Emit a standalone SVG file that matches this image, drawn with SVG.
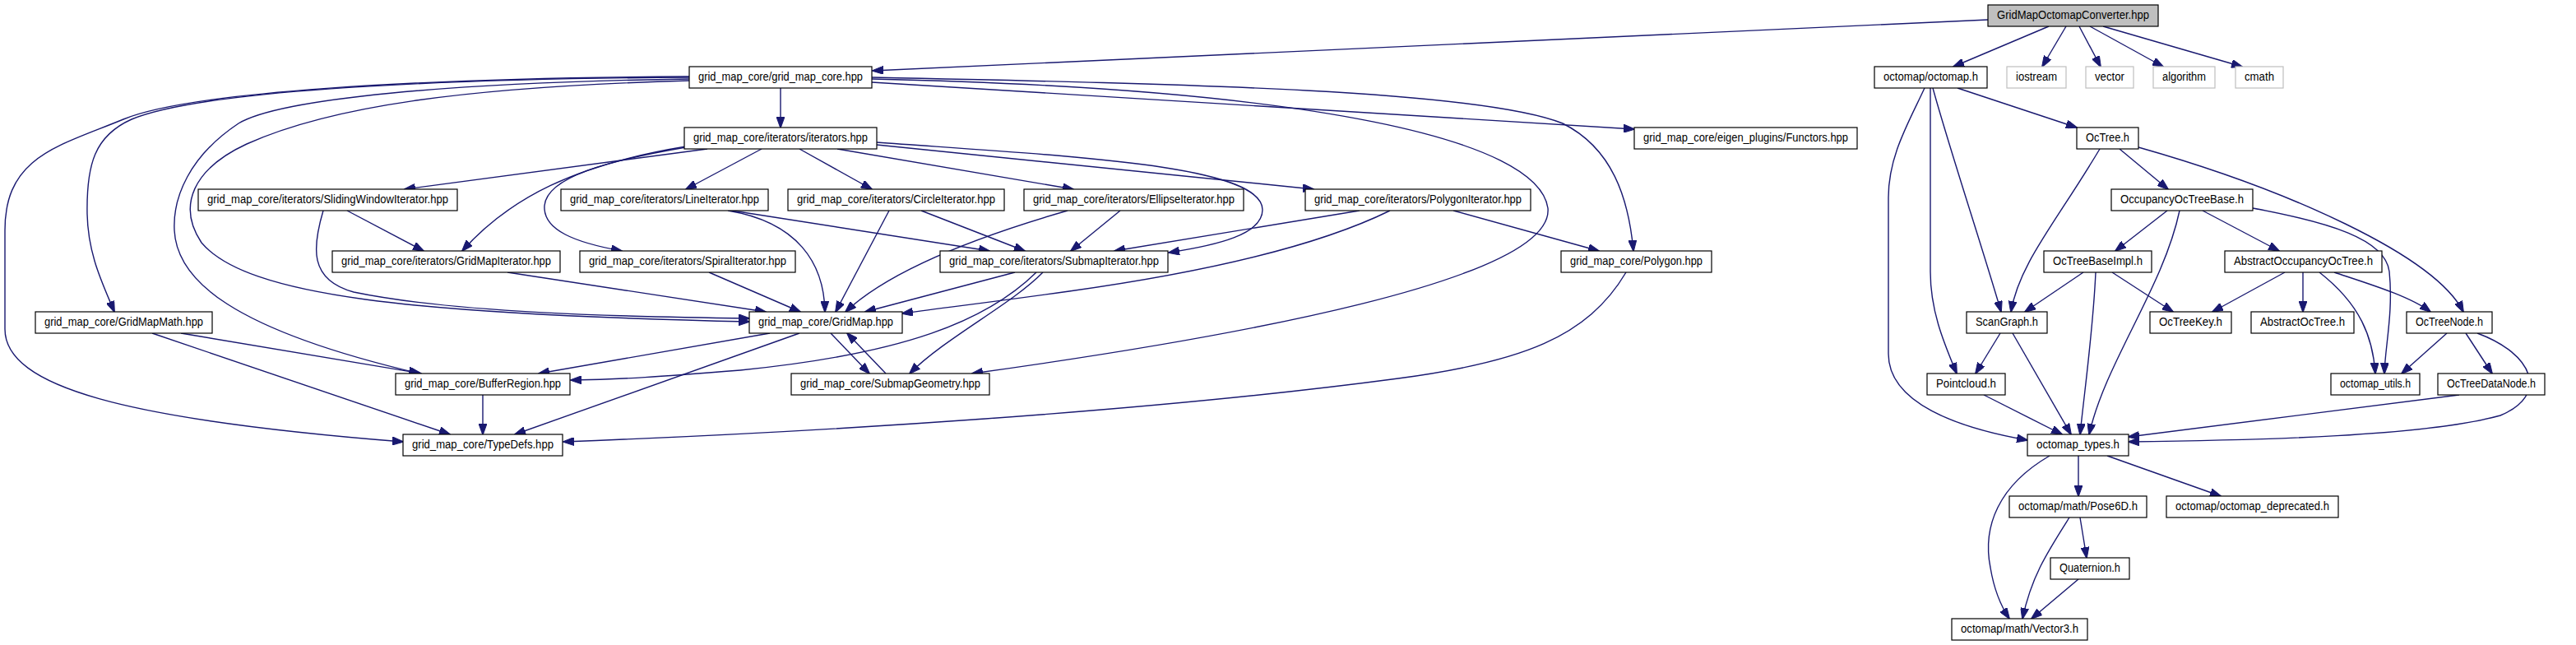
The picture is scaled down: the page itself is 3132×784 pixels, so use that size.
<svg xmlns="http://www.w3.org/2000/svg" width="3132" height="784" viewBox="0 0 3132 784">
<style>
.n rect{fill:#fff;stroke:#000;stroke-width:1.2}
.g rect{fill:#fff;stroke:#bfbfbf;stroke-width:1.2}
.r rect{fill:#bfbfbf;stroke:#000;stroke-width:1.2}
text{font-family:"Liberation Sans",Arial,sans-serif;font-size:14px;text-anchor:middle;fill:#000}
.e path{fill:none;stroke:#191970;stroke-width:1.4;marker-end:url(#a)}
</style>
<defs>
<marker id="a" markerWidth="14" markerHeight="10" refX="13" refY="5" orient="auto" markerUnits="userSpaceOnUse"><path d="M0,0 L14,5 L0,10 z" fill="#191970" stroke="#191970" stroke-width="1"/></marker>
</defs>
<rect width="3132" height="784" fill="#fff"/>
<g id="connectors" class="e">
<path d="M2417,24 L1061,86"/>
<path d="M2491,32 L2375,81"/>
<path d="M2512,32 L2483,81"/>
<path d="M2528,32 L2554,81"/>
<path d="M2541,32 L2630,81"/>
<path d="M2557,32 L2726,81"/>
<path d="M949,107 L949,155"/>
<path d="M1060,100 L1987,157"/>
<path d="M1060,94 C1450,102 1800,110 1900,150 C1960,180 1980,240 1986,305"/>
<path d="M1060,96 C1600,108 1870,170 1882,253 C1890,340 1500,410 1182,454"/>
<path d="M838,93 C500,95 230,112 150,145 C70,178 6,190 6,280 L6,400 C6,470 150,510 490,537"/>
<path d="M838,94 C500,96 240,112 160,145 C115,165 105,200 106,260 C107,310 125,345 139,379"/>
<path d="M838,96 C550,100 340,120 290,150 C230,190 210,240 212,280 C215,340 280,400 510,454"/>
<path d="M838,98 C560,106 400,130 300,175 C235,205 215,250 245,295 C300,360 500,382 911,391"/>
<path d="M860,181 L492,230"/>
<path d="M834,178 C700,200 620,240 562,305"/>
<path d="M834,179 C740,195 665,215 662,250 C660,280 700,295 756,305"/>
<path d="M926,181 L834,230"/>
<path d="M972,181 L1060,230"/>
<path d="M1018,181 L1305,230"/>
<path d="M1066,176 L1597,230"/>
<path d="M1066,173 C1300,190 1535,200 1535,255 C1535,285 1480,298 1421,307"/>
<path d="M422,256 L515,305"/>
<path d="M393,256 C380,300 375,340 430,355 C550,380 750,385 911,387"/>
<path d="M617,331 L931,379"/>
<path d="M885,256 C970,270 1002,320 1003,379"/>
<path d="M890,256 L1203,305"/>
<path d="M1081,256 L1016,379"/>
<path d="M1120,256 L1246,305"/>
<path d="M1298,256 C1180,290 1080,330 1028,379"/>
<path d="M1362,256 L1302,305"/>
<path d="M862,331 L973,379"/>
<path d="M1234,331 L1052,379"/>
<path d="M1260,331 C1200,390 1100,430 900,450 C800,458 760,461 694,462"/>
<path d="M1268,331 C1230,370 1150,410 1106,454"/>
<path d="M1653,256 L1355,305"/>
<path d="M1690,256 C1580,310 1400,340 1300,354 C1200,368 1140,375 1097,381"/>
<path d="M1767,256 L1944,305"/>
<path d="M1977,331 C1930,410 1850,440 1700,460 C1400,500 1000,525 685,537"/>
<path d="M185,405 L547,528"/>
<path d="M220,405 L512,454"/>
<path d="M587,480 L587,528"/>
<path d="M936,405 L655,454"/>
<path d="M972,405 L626,528"/>
<path d="M1010,405 L1057,454"/>
<path d="M1077,454 L1030,405"/>
<path d="M2380,107 L2525,155"/>
<path d="M2340,107 C2320,150 2296,190 2296,240 L2296,430 C2296,490 2380,520 2465,535"/>
<path d="M2347,107 L2347,330 C2347,380 2365,420 2379,454"/>
<path d="M2350,107 C2370,180 2410,300 2433,379"/>
<path d="M2553,181 C2500,270 2455,320 2445,379"/>
<path d="M2577,181 L2636,230"/>
<path d="M2600,179 C2780,230 2960,310 2995,379"/>
<path d="M2635,256 L2572,305"/>
<path d="M2650,256 C2630,350 2560,440 2540,528"/>
<path d="M2678,256 L2771,305"/>
<path d="M2739,253 C2830,270 2900,290 2905,330 C2910,380 2900,420 2899,454"/>
<path d="M2820,331 C2870,370 2885,410 2888,454"/>
<path d="M2778,331 L2690,379"/>
<path d="M2800,331 L2800,379"/>
<path d="M2838,331 C2880,345 2930,360 2955,379"/>
<path d="M2533,331 L2462,379"/>
<path d="M2548,331 C2545,400 2535,470 2529,528"/>
<path d="M2568,331 L2642,379"/>
<path d="M2432,405 L2402,454"/>
<path d="M2447,405 L2518,528"/>
<path d="M2412,480 L2507,528"/>
<path d="M3012,405 C3080,430 3100,480 3040,505 C2950,530 2750,535 2588,537"/>
<path d="M2975,405 L2920,454"/>
<path d="M2998,405 L3030,454"/>
<path d="M2990,480 L2588,531"/>
<path d="M2527,554 L2527,603"/>
<path d="M2492,554 C2430,590 2410,640 2420,690 C2425,720 2435,740 2443,752"/>
<path d="M2562,554 L2700,603"/>
<path d="M2529,629 L2537,678"/>
<path d="M2516,629 C2490,670 2470,700 2459,752"/>
<path d="M2527,704 L2470,752"/>
</g>
<g id="root" class="r"><rect x="2417" y="6" width="207" height="26"/><text x="2520.5" y="23" textLength="185" lengthAdjust="spacingAndGlyphs">GridMapOctomapConverter.hpp</text></g>
<g id="core" class="n"><rect x="838" y="81" width="222" height="26"/><text x="949" y="98" textLength="200" lengthAdjust="spacingAndGlyphs">grid_map_core/grid_map_core.hpp</text></g>
<g id="octomap" class="n"><rect x="2279" y="81" width="137" height="26"/><text x="2347.5" y="98" textLength="115" lengthAdjust="spacingAndGlyphs">octomap/octomap.h</text></g>
<g id="iostream" class="g"><rect x="2440" y="81" width="72" height="26"/><text x="2476" y="98" textLength="50" lengthAdjust="spacingAndGlyphs">iostream</text></g>
<g id="vector" class="g"><rect x="2536" y="81" width="58" height="26"/><text x="2565" y="98" textLength="36" lengthAdjust="spacingAndGlyphs">vector</text></g>
<g id="algorithm" class="g"><rect x="2618" y="81" width="75" height="26"/><text x="2655.5" y="98" textLength="53" lengthAdjust="spacingAndGlyphs">algorithm</text></g>
<g id="cmath" class="g"><rect x="2718" y="81" width="58" height="26"/><text x="2747" y="98" textLength="36" lengthAdjust="spacingAndGlyphs">cmath</text></g>
<g id="iterators" class="n"><rect x="832" y="155" width="234" height="26"/><text x="949" y="172" textLength="212" lengthAdjust="spacingAndGlyphs">grid_map_core/iterators/iterators.hpp</text></g>
<g id="functors" class="n"><rect x="1987" y="155" width="271" height="26"/><text x="2122.5" y="172" textLength="249" lengthAdjust="spacingAndGlyphs">grid_map_core/eigen_plugins/Functors.hpp</text></g>
<g id="octree" class="n"><rect x="2525" y="155" width="75" height="26"/><text x="2562.5" y="172" textLength="53" lengthAdjust="spacingAndGlyphs">OcTree.h</text></g>
<g id="sliding" class="n"><rect x="241" y="230" width="315" height="26"/><text x="398.5" y="247" textLength="293" lengthAdjust="spacingAndGlyphs">grid_map_core/iterators/SlidingWindowIterator.hpp</text></g>
<g id="lineit" class="n"><rect x="682" y="230" width="252" height="26"/><text x="808" y="247" textLength="230" lengthAdjust="spacingAndGlyphs">grid_map_core/iterators/LineIterator.hpp</text></g>
<g id="circleit" class="n"><rect x="958" y="230" width="263" height="26"/><text x="1089.5" y="247" textLength="241" lengthAdjust="spacingAndGlyphs">grid_map_core/iterators/CircleIterator.hpp</text></g>
<g id="ellipseit" class="n"><rect x="1245" y="230" width="267" height="26"/><text x="1378.5" y="247" textLength="245" lengthAdjust="spacingAndGlyphs">grid_map_core/iterators/EllipseIterator.hpp</text></g>
<g id="polygonit" class="n"><rect x="1587" y="230" width="274" height="26"/><text x="1724" y="247" textLength="252" lengthAdjust="spacingAndGlyphs">grid_map_core/iterators/PolygonIterator.hpp</text></g>
<g id="occbase" class="n"><rect x="2567" y="230" width="172" height="26"/><text x="2653" y="247" textLength="150" lengthAdjust="spacingAndGlyphs">OccupancyOcTreeBase.h</text></g>
<g id="gridmapit" class="n"><rect x="404" y="305" width="277" height="26"/><text x="542.5" y="322" textLength="255" lengthAdjust="spacingAndGlyphs">grid_map_core/iterators/GridMapIterator.hpp</text></g>
<g id="spiralit" class="n"><rect x="705" y="305" width="262" height="26"/><text x="836" y="322" textLength="240" lengthAdjust="spacingAndGlyphs">grid_map_core/iterators/SpiralIterator.hpp</text></g>
<g id="submapit" class="n"><rect x="1143" y="305" width="277" height="26"/><text x="1281.5" y="322" textLength="255" lengthAdjust="spacingAndGlyphs">grid_map_core/iterators/SubmapIterator.hpp</text></g>
<g id="polygon" class="n"><rect x="1898" y="305" width="183" height="26"/><text x="1989.5" y="322" textLength="161" lengthAdjust="spacingAndGlyphs">grid_map_core/Polygon.hpp</text></g>
<g id="octbaseimpl" class="n"><rect x="2485" y="305" width="131" height="26"/><text x="2550.5" y="322" textLength="109" lengthAdjust="spacingAndGlyphs">OcTreeBaseImpl.h</text></g>
<g id="absocc" class="n"><rect x="2705" y="305" width="191" height="26"/><text x="2800.5" y="322" textLength="169" lengthAdjust="spacingAndGlyphs">AbstractOccupancyOcTree.h</text></g>
<g id="gridmapmath" class="n"><rect x="43" y="379" width="215" height="26"/><text x="150.5" y="396" textLength="193" lengthAdjust="spacingAndGlyphs">grid_map_core/GridMapMath.hpp</text></g>
<g id="gridmap" class="n"><rect x="911" y="379" width="186" height="26"/><text x="1004" y="396" textLength="164" lengthAdjust="spacingAndGlyphs">grid_map_core/GridMap.hpp</text></g>
<g id="scangraph" class="n"><rect x="2391" y="379" width="98" height="26"/><text x="2440" y="396" textLength="76" lengthAdjust="spacingAndGlyphs">ScanGraph.h</text></g>
<g id="octreekey" class="n"><rect x="2614" y="379" width="99" height="26"/><text x="2663.5" y="396" textLength="77" lengthAdjust="spacingAndGlyphs">OcTreeKey.h</text></g>
<g id="abstractoctree" class="n"><rect x="2737" y="379" width="125" height="26"/><text x="2799.5" y="396" textLength="103" lengthAdjust="spacingAndGlyphs">AbstractOcTree.h</text></g>
<g id="octreenode" class="n"><rect x="2926" y="379" width="104" height="26"/><text x="2978" y="396" textLength="82" lengthAdjust="spacingAndGlyphs">OcTreeNode.h</text></g>
<g id="bufferregion" class="n"><rect x="481" y="454" width="212" height="26"/><text x="587" y="471" textLength="190" lengthAdjust="spacingAndGlyphs">grid_map_core/BufferRegion.hpp</text></g>
<g id="submapgeometry" class="n"><rect x="962" y="454" width="241" height="26"/><text x="1082.5" y="471" textLength="219" lengthAdjust="spacingAndGlyphs">grid_map_core/SubmapGeometry.hpp</text></g>
<g id="pointcloud" class="n"><rect x="2343" y="454" width="95" height="26"/><text x="2390.5" y="471" textLength="73" lengthAdjust="spacingAndGlyphs">Pointcloud.h</text></g>
<g id="utils" class="n"><rect x="2834" y="454" width="108" height="26"/><text x="2888" y="471" textLength="86" lengthAdjust="spacingAndGlyphs">octomap_utils.h</text></g>
<g id="datanode" class="n"><rect x="2964" y="454" width="130" height="26"/><text x="3029" y="471" textLength="108" lengthAdjust="spacingAndGlyphs">OcTreeDataNode.h</text></g>
<g id="typedefs" class="n"><rect x="490" y="528" width="194" height="26"/><text x="587" y="545" textLength="172" lengthAdjust="spacingAndGlyphs">grid_map_core/TypeDefs.hpp</text></g>
<g id="types" class="n"><rect x="2465" y="528" width="123" height="26"/><text x="2526.5" y="545" textLength="101" lengthAdjust="spacingAndGlyphs">octomap_types.h</text></g>
<g id="pose6d" class="n"><rect x="2443" y="603" width="167" height="26"/><text x="2526.5" y="620" textLength="145" lengthAdjust="spacingAndGlyphs">octomap/math/Pose6D.h</text></g>
<g id="deprecated" class="n"><rect x="2634" y="603" width="209" height="26"/><text x="2738.5" y="620" textLength="187" lengthAdjust="spacingAndGlyphs">octomap/octomap_deprecated.h</text></g>
<g id="quaternion" class="n"><rect x="2493" y="678" width="96" height="26"/><text x="2541" y="695" textLength="74" lengthAdjust="spacingAndGlyphs">Quaternion.h</text></g>
<g id="vector3" class="n"><rect x="2373" y="752" width="165" height="26"/><text x="2455.5" y="769" textLength="143" lengthAdjust="spacingAndGlyphs">octomap/math/Vector3.h</text></g>
</svg>
